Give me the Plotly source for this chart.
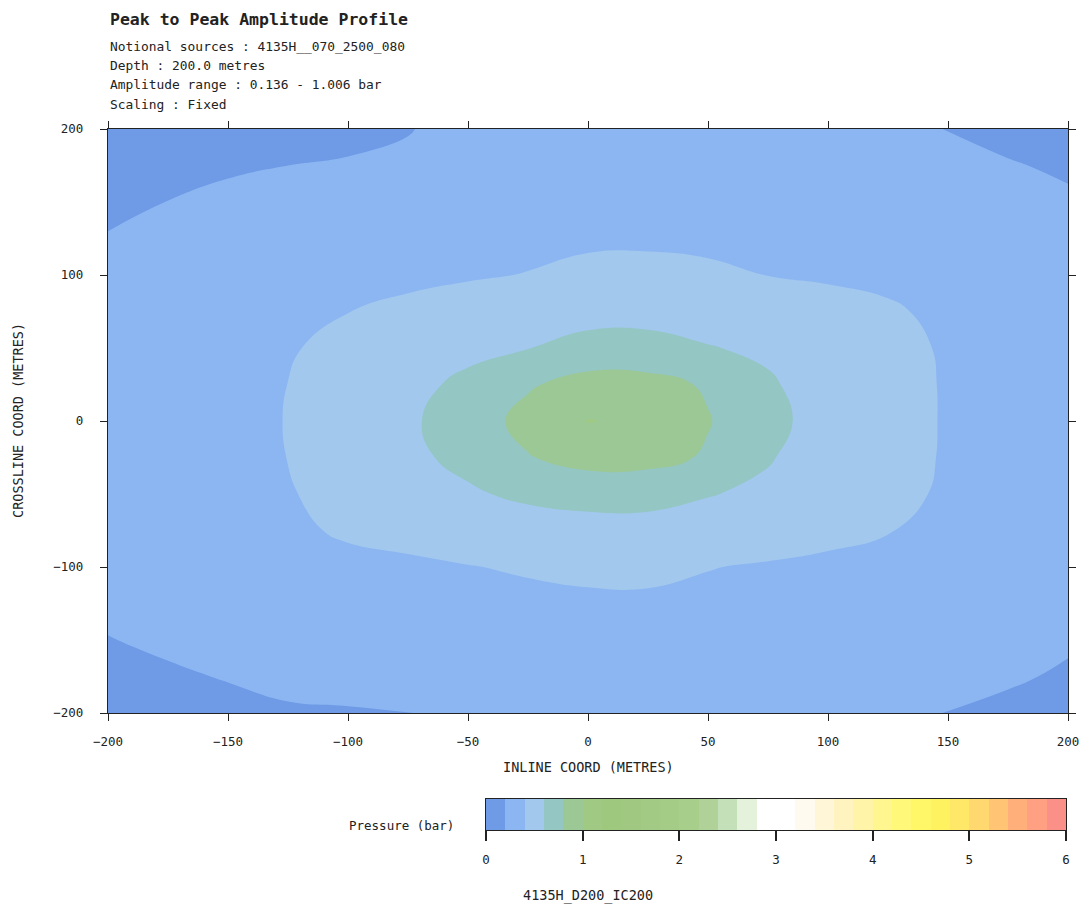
import plotly.graph_objects as go

# Grid coordinates (metres)
inline_m = [-200, -175, -150, -125, -100, -75, -50, -25, 0, 25, 50, 75, 100, 125, 150, 175, 200]
crossline_m = [-200, -175, -150, -125, -100, -75, -50, -25, 0, 25, 50, 75, 100, 125, 150, 175, 200]

# Peak-to-peak amplitude (bar), one row per crossline position, south to north
amp_s200 = [0.150, 0.162, 0.174, 0.190, 0.192, 0.199, 0.210, 0.225, 0.240, 0.245, 0.240, 0.230, 0.220, 0.210, 0.199, 0.182, 0.168]
amp_s175 = [0.170, 0.188, 0.205, 0.222, 0.235, 0.245, 0.255, 0.270, 0.280, 0.285, 0.280, 0.270, 0.260, 0.245, 0.230, 0.210, 0.190]
amp_s150 = [0.197, 0.216, 0.235, 0.255, 0.275, 0.290, 0.305, 0.320, 0.330, 0.335, 0.330, 0.320, 0.305, 0.290, 0.265, 0.235, 0.210]
amp_s125 = [0.220, 0.240, 0.260, 0.285, 0.310, 0.330, 0.350, 0.365, 0.376, 0.375, 0.365, 0.350, 0.335, 0.320, 0.295, 0.260, 0.235]
amp_s100 = [0.228, 0.260, 0.290, 0.320, 0.350, 0.375, 0.395, 0.415, 0.430, 0.435, 0.405, 0.385, 0.365, 0.360, 0.330, 0.285, 0.250]
amp_s075 = [0.245, 0.278, 0.310, 0.365, 0.425, 0.445, 0.475, 0.500, 0.520, 0.520, 0.505, 0.480, 0.445, 0.405, 0.360, 0.300, 0.262]
amp_s050 = [0.258, 0.292, 0.330, 0.390, 0.450, 0.530, 0.575, 0.640, 0.675, 0.675, 0.610, 0.560, 0.500, 0.450, 0.375, 0.310, 0.265]
amp_s025 = [0.268, 0.305, 0.345, 0.402, 0.465, 0.560, 0.650, 0.790, 0.870, 0.860, 0.780, 0.615, 0.500, 0.460, 0.385, 0.318, 0.272]
amp_000 = [0.270, 0.310, 0.350, 0.405, 0.470, 0.570, 0.700, 0.860, 1.006, 0.970, 0.810, 0.670, 0.500, 0.470, 0.385, 0.320, 0.275]
amp_n025 = [0.268, 0.305, 0.345, 0.401, 0.465, 0.555, 0.635, 0.780, 0.870, 0.860, 0.780, 0.625, 0.505, 0.465, 0.385, 0.318, 0.272]
amp_n050 = [0.260, 0.295, 0.335, 0.385, 0.450, 0.515, 0.560, 0.595, 0.675, 0.675, 0.610, 0.565, 0.505, 0.455, 0.380, 0.312, 0.268]
amp_n075 = [0.245, 0.280, 0.315, 0.355, 0.398, 0.430, 0.470, 0.500, 0.520, 0.525, 0.510, 0.490, 0.460, 0.420, 0.365, 0.305, 0.262]
amp_n100 = [0.228, 0.262, 0.295, 0.325, 0.350, 0.370, 0.385, 0.405, 0.435, 0.445, 0.430, 0.398, 0.380, 0.365, 0.335, 0.290, 0.250]
amp_n125 = [0.205, 0.235, 0.262, 0.290, 0.310, 0.330, 0.345, 0.360, 0.377, 0.375, 0.365, 0.350, 0.340, 0.330, 0.300, 0.265, 0.235]
amp_n150 = [0.180, 0.201, 0.225, 0.245, 0.265, 0.285, 0.300, 0.315, 0.330, 0.335, 0.330, 0.320, 0.310, 0.300, 0.270, 0.240, 0.210]
amp_n175 = [0.160, 0.172, 0.186, 0.200, 0.205, 0.208, 0.230, 0.250, 0.270, 0.280, 0.275, 0.265, 0.255, 0.240, 0.222, 0.205, 0.190]
amp_n200 = [0.136, 0.155, 0.165, 0.175, 0.185, 0.198, 0.215, 0.235, 0.255, 0.265, 0.260, 0.250, 0.235, 0.210, 0.199, 0.180, 0.165]

amplitude = [amp_s200, amp_s175, amp_s150, amp_s125, amp_s100, amp_s075, amp_s050, amp_s025,
             amp_000, amp_n025, amp_n050, amp_n075, amp_n100, amp_n125, amp_n150, amp_n175, amp_n200]

# Pressure bands: 0 to 6 bar in 0.2 bar steps
level_start, level_end, level_step = 0.0, 6.0, 0.2
band_colors = [
    "#6e9ae6", "#8cb6f2", "#a2c8ee", "#94c6c4", "#9cc896",
    "#a0ca84", "#9ec87e", "#a0c880", "#a2ca84", "#a4cc86",
    "#a8ce8c", "#b0d298", "#c4e0b8", "#e4f2dc", "#ffffff",
    "#ffffff", "#fffaf0", "#fff6d8", "#fff4c0", "#fff4a8",
    "#fff690", "#fff878", "#fff668", "#fff260", "#ffe868",
    "#ffd870", "#ffc474", "#ffb07a", "#ffa082", "#fa9088",
]
pressure_ticks = [0, 1, 2, 3, 4, 5, 6]
n_bands = len(band_colors)

# Contour fill samples each band at its mid level; colour scale spans
# n_bands + 1 level slots, so each band gets a flat step around its sample.
n_slots = n_bands + 1
contour_scale = []
for k, c in enumerate(band_colors):
    lo = 0.0 if k == 0 else (k + 0.5) / n_slots
    hi = 1.0 if k == n_bands - 1 else (k + 1.5) / n_slots
    contour_scale += [[lo, c], [hi, c]]

# Stepped scale for the pressure key (one cell per band index)
key_scale = []
for k, c in enumerate(band_colors):
    key_scale += [[k / n_bands, c], [(k + 1) / n_bands, c]]
band_mid = [level_start + (k + 0.5) * level_step for k in range(n_bands)]

MONO = "DejaVu Sans Mono"
INK = "#222222"

# Page geometry (pixels)
W, H = 1080, 907
M_L, M_R, M_T, M_B = 108, 12, 129, 40
PLOT_W = W - M_L - M_R
PLOT_H = H - M_T - M_B


def paper_y(ypx):
    return (H - M_B - ypx) / PLOT_H


def paper_x(xpx):
    return (xpx - M_L) / PLOT_W


fig = go.Figure()
fig.add_trace(go.Contour(
    x=inline_m,
    y=crossline_m,
    z=amplitude,
    autocontour=False,
    contours=dict(start=level_start, end=level_end, size=level_step,
                  coloring="fill", showlines=False),
    line=dict(width=0, smoothing=1.3),
    colorscale=contour_scale,
    showscale=False,
    hoverinfo="skip",
    xaxis="x", yaxis="y",
))

# Pressure key drawn as a one-row heatmap of the bands
fig.add_trace(go.Heatmap(
    x=band_mid,
    y=[0],
    z=[list(range(n_bands))],
    zmin=-0.5, zmax=n_bands - 0.5,
    colorscale=key_scale,
    showscale=False,
    hoverinfo="skip",
    xaxis="x2", yaxis="y2",
))

axis_common = dict(
    showgrid=False, zeroline=False, automargin=False,
    showline=True, linecolor=INK, linewidth=1.2, mirror="ticks",
    ticks="outside", ticklen=7, tickwidth=1.3, tickcolor=INK,
    tickfont=dict(family=MONO, size=12.5, color=INK),
)

fig.update_layout(
    width=W, height=H,
    margin=dict(l=M_L, r=M_R, t=M_T, b=M_B, autoexpand=False),
    paper_bgcolor="white", plot_bgcolor="white",
    xaxis=dict(range=[-200, 200], domain=[0, 1], anchor="y",
               tickmode="array",
               tickvals=[-200, -150, -100, -50, 0, 50, 100, 150, 200],
               ticklabelstandoff=10, **axis_common),
    yaxis=dict(range=[-200, 200], domain=[paper_y(713), 1], anchor="x",
               tickmode="array",
               tickvals=[-200, -100, 0, 100, 200],
               ticklabelstandoff=14, **axis_common),
    xaxis2=dict(range=[level_start, level_end],
                domain=[paper_x(486), paper_x(1066)], anchor="y2",
                showgrid=False, zeroline=False, automargin=False,
                showline=True, linecolor=INK, linewidth=1.2, mirror=True,
                ticks="outside", ticklen=10, tickwidth=1.5, tickcolor=INK,
                tickmode="array", tickvals=pressure_ticks,
                ticklabelstandoff=8,
                tickfont=dict(family=MONO, size=12.5, color=INK)),
    yaxis2=dict(range=[-0.5, 0.5],
                domain=[paper_y(830), paper_y(799)], anchor="x2",
                showgrid=False, zeroline=False, automargin=False,
                showline=True, linecolor=INK, linewidth=1.2, mirror=True,
                ticks="", showticklabels=False),
    showlegend=False,
)

header = [
    ("Peak to Peak Amplitude Profile", 20, 16.5, True),
    ("Notional sources : 4135H__070_2500_080", 46, 12.9, False),
    ("Depth : 200.0 metres", 66, 12.9, False),
    ("Amplitude range : 0.136 - 1.006 bar", 85, 12.9, False),
    ("Scaling : Fixed", 104, 12.9, False),
]
for text, ypx, size, bold in header:
    fig.add_annotation(
        text=f"<b>{text}</b>" if bold else text,
        xref="paper", yref="paper",
        x=0, xanchor="left", y=paper_y(ypx), yanchor="middle",
        showarrow=False,
        font=dict(family=MONO, size=size, color=INK),
    )

# Axis titles
fig.add_annotation(text="INLINE COORD (METRES)", xref="paper", yref="paper",
                   x=paper_x(588), xanchor="center", y=paper_y(767), yanchor="middle",
                   showarrow=False, font=dict(family=MONO, size=13.5, color=INK))
fig.add_annotation(text="CROSSLINE COORD (METRES)", xref="paper", yref="paper",
                   x=paper_x(18), xanchor="center", y=paper_y(421), yanchor="middle",
                   textangle=-90, showarrow=False,
                   font=dict(family=MONO, size=13.5, color=INK))

# Key caption and plot identifier
fig.add_annotation(text="Pressure (bar)", xref="paper", yref="paper",
                   x=paper_x(456), xanchor="right", y=paper_y(825), yanchor="middle",
                   showarrow=False, font=dict(family=MONO, size=12.5, color=INK))
fig.add_annotation(text="4135H_D200_IC200", xref="paper", yref="paper",
                   x=paper_x(588), xanchor="center", y=paper_y(895), yanchor="middle",
                   showarrow=False, font=dict(family=MONO, size=13.5, color=INK))

fig.write_html("out.html")
